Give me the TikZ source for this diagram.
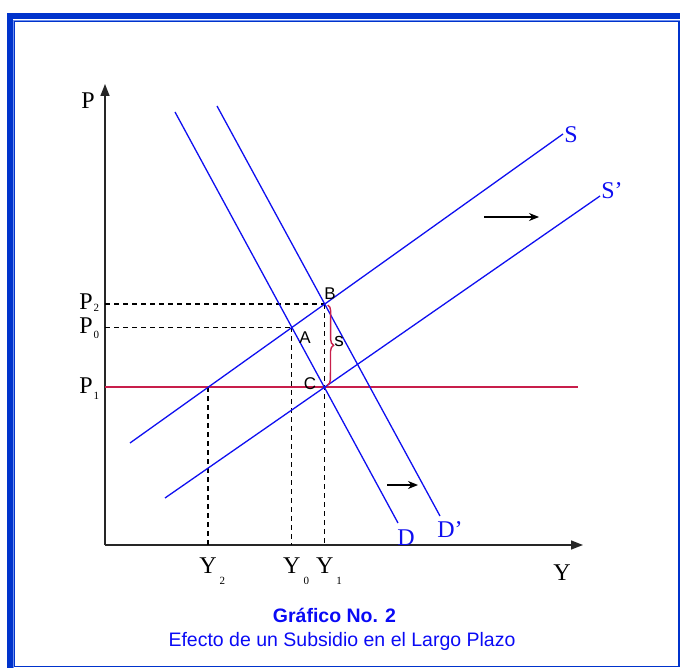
\documentclass[tikz,border=0pt]{standalone}
\usepackage{fontspec}
\setmainfont{Liberation Serif}
\setsansfont{Liberation Sans}
\usepackage{xcolor}
\usepackage{tikz}
\usetikzlibrary{arrows.meta, positioning, calc, intersections, decorations.pathreplacing}
\definecolor{frameblue}{HTML}{0033CC}
\definecolor{framelight}{HTML}{7090EE}
\definecolor{lineblue}{RGB}{15,15,240}
\definecolor{pricered}{RGB}{200,30,75}
\definecolor{capblue}{RGB}{10,10,245}

% letter with a low subscript that does not shift the letter
\newcommand{\axsub}[3]{#1\rlap{\kern1pt\raisebox{#3}{\fontsize{11}{11}\selectfont #2}}}

\tikzset{
  axisline/.style={draw=black!85, line width=1.5pt, -{Triangle[length=12pt,width=9pt]}},
  supdem/.style={lineblue, line width=1.3pt},
  guide/.style={black, line width=1.1pt, dash pattern=on 5pt off 4pt},
  pline/.style={pricered, line width=1.7pt},
  subbrace/.style={pricered, line width=1.4pt, decorate, decoration={brace, amplitude=6pt}},
  shiftarrow/.style={black, line width=1.3pt, -{Stealth[length=10pt,width=8pt]}},
  axlbl/.style={font=\fontsize{24}{24}\selectfont, inner sep=0pt, anchor=base},
  curvelbl/.style={font=\fontsize{24}{24}\selectfont, text=lineblue, inner sep=0pt, anchor=base},
  ptlbl/.style={font=\sffamily\fontsize{17}{17}\selectfont, inner sep=0pt, anchor=base},
  caption/.style={font=\sffamily\fontsize{19.5}{19.5}\selectfont, text=capblue, inner sep=0pt, anchor=base}
}

\begin{document}
\begin{tikzpicture}[x=1pt, y=-1pt]
  \useasboundingbox (0,0) rectangle (680,668);
  % frame
  \fill[frameblue] (7,13.5) rectangle (680,19.5);
  \fill[frameblue] (7,13.5) rectangle (12.5,668);
  \draw[framelight, line width=0.8pt] (13.2,668) -- (13.2,20) -- (680,20);
  \draw[frameblue, line width=1.3pt] (14.8,21.5) rectangle (679,666.3);

  % axes
  \coordinate (O) at (105,545);
  \coordinate (Ptop) at (105,84);
  \coordinate (Yend) at (583,545);
  \draw[axisline] (O) -- (Ptop);
  \draw[axisline] (O) -- (Yend);

  % supply and demand
  \coordinate (S0) at (130,443);  \coordinate (S1) at (563,134);
  \coordinate (Sp0) at (165,498); \coordinate (Sp1) at (600,196);
  \coordinate (D0) at (175,112);  \coordinate (D1) at (398,523);
  \coordinate (Dp0) at (217,106); \coordinate (Dp1) at (440,516);
  \path[name path=S] (S0) -- (S1);
  \path[name path=Sp] (Sp0) -- (Sp1);
  \path[name path=D] (D0) -- (D1);
  \path[name path=Dp] (Dp0) -- (Dp1);
  \path[name intersections={of=S and D, by=A}];
  \path[name intersections={of=S and Dp, by=B}];
  \path[name intersections={of=Sp and D, by=C}];
  \coordinate (P1end) at (578,0);
  \path[name path=P1] (O |- C) -- (P1end |- C);
  \path[name intersections={of=S and P1, by=E}];

  % guides
  \draw[guide] (O |- B) -- (B);
  \draw[guide] (O |- A) -- (A);
  \draw[guide] (E) -- (E |- O);
  \draw[guide] (A) -- (A |- O);
  \draw[guide] (B) -- (B |- O);

  \draw[pline] (O |- C) -- (P1end |- C);
  \draw[supdem] (S0) -- (S1);
  \draw[supdem] (Sp0) -- (Sp1);
  \draw[supdem] (D0) -- (D1);
  \draw[supdem] (Dp0) -- (Dp1);

  % subsidy
  \draw[subbrace] ([xshift=3pt,yshift=-1pt]B) -- ([xshift=3pt,yshift=2pt]C);
  \node[ptlbl, font=\sffamily\fontsize{19}{19}\selectfont] (lbls) at (339,346) {s};

  \node[ptlbl] (lblA) at (305,343) {A};
  \node[ptlbl] (lblB) at (330,300) {B};
  \node[ptlbl] (lblC) at (310,389) {C};

  % shifts
  \coordinate (up0) at (484,217); \coordinate (up1) at (539,217);
  \coordinate (lo0) at (387,485); \coordinate (lo1) at (418,485);
  \draw[shiftarrow] (up0) -- (up1);
  \draw[shiftarrow] (lo0) -- (lo1);

  % labels
  \node[axlbl] (lblP) at (88,109) {P};
  \node[axlbl] (lblY) at (562,580) {Y};
  \node[axlbl] (lblP2) at (86,309) {\axsub{P}{2}{-2pt}};
  \node[axlbl] (lblP0) at (86,334) {\axsub{P}{0}{-5pt}};
  \node[axlbl] (lblP1) at (86,393) {\axsub{P}{1}{-6pt}};
  \node[axlbl] (lblY2) at (E |- 0,573) {\axsub{Y}{\kern2pt 2}{-11pt}};
  \node[axlbl] (lblY0) at (A |- 0,573) {\axsub{Y}{\kern2pt 0}{-11pt}};
  \node[axlbl] (lblY1) at (B |- 0,573) {\axsub{Y}{\kern2pt 1}{-11pt}};
  \node[curvelbl] (lblS) at (571,143) {S};
  \node[curvelbl] (lblSp) at (612,199) {S’};
  \node[curvelbl] (lblD) at (406,545) {D};
  \node[curvelbl] (lblDp) at (450,537) {D’};

  % caption
  \node[caption, font=\sffamily\bfseries\fontsize{19.5}{19.5}\selectfont] (cap1) at (334.5,622.5) {Gráfico No. 2};
  \node[caption] (cap2) at (342,646.5) {Efecto de un Subsidio en el Largo Plazo};
\end{tikzpicture}
\end{document}
